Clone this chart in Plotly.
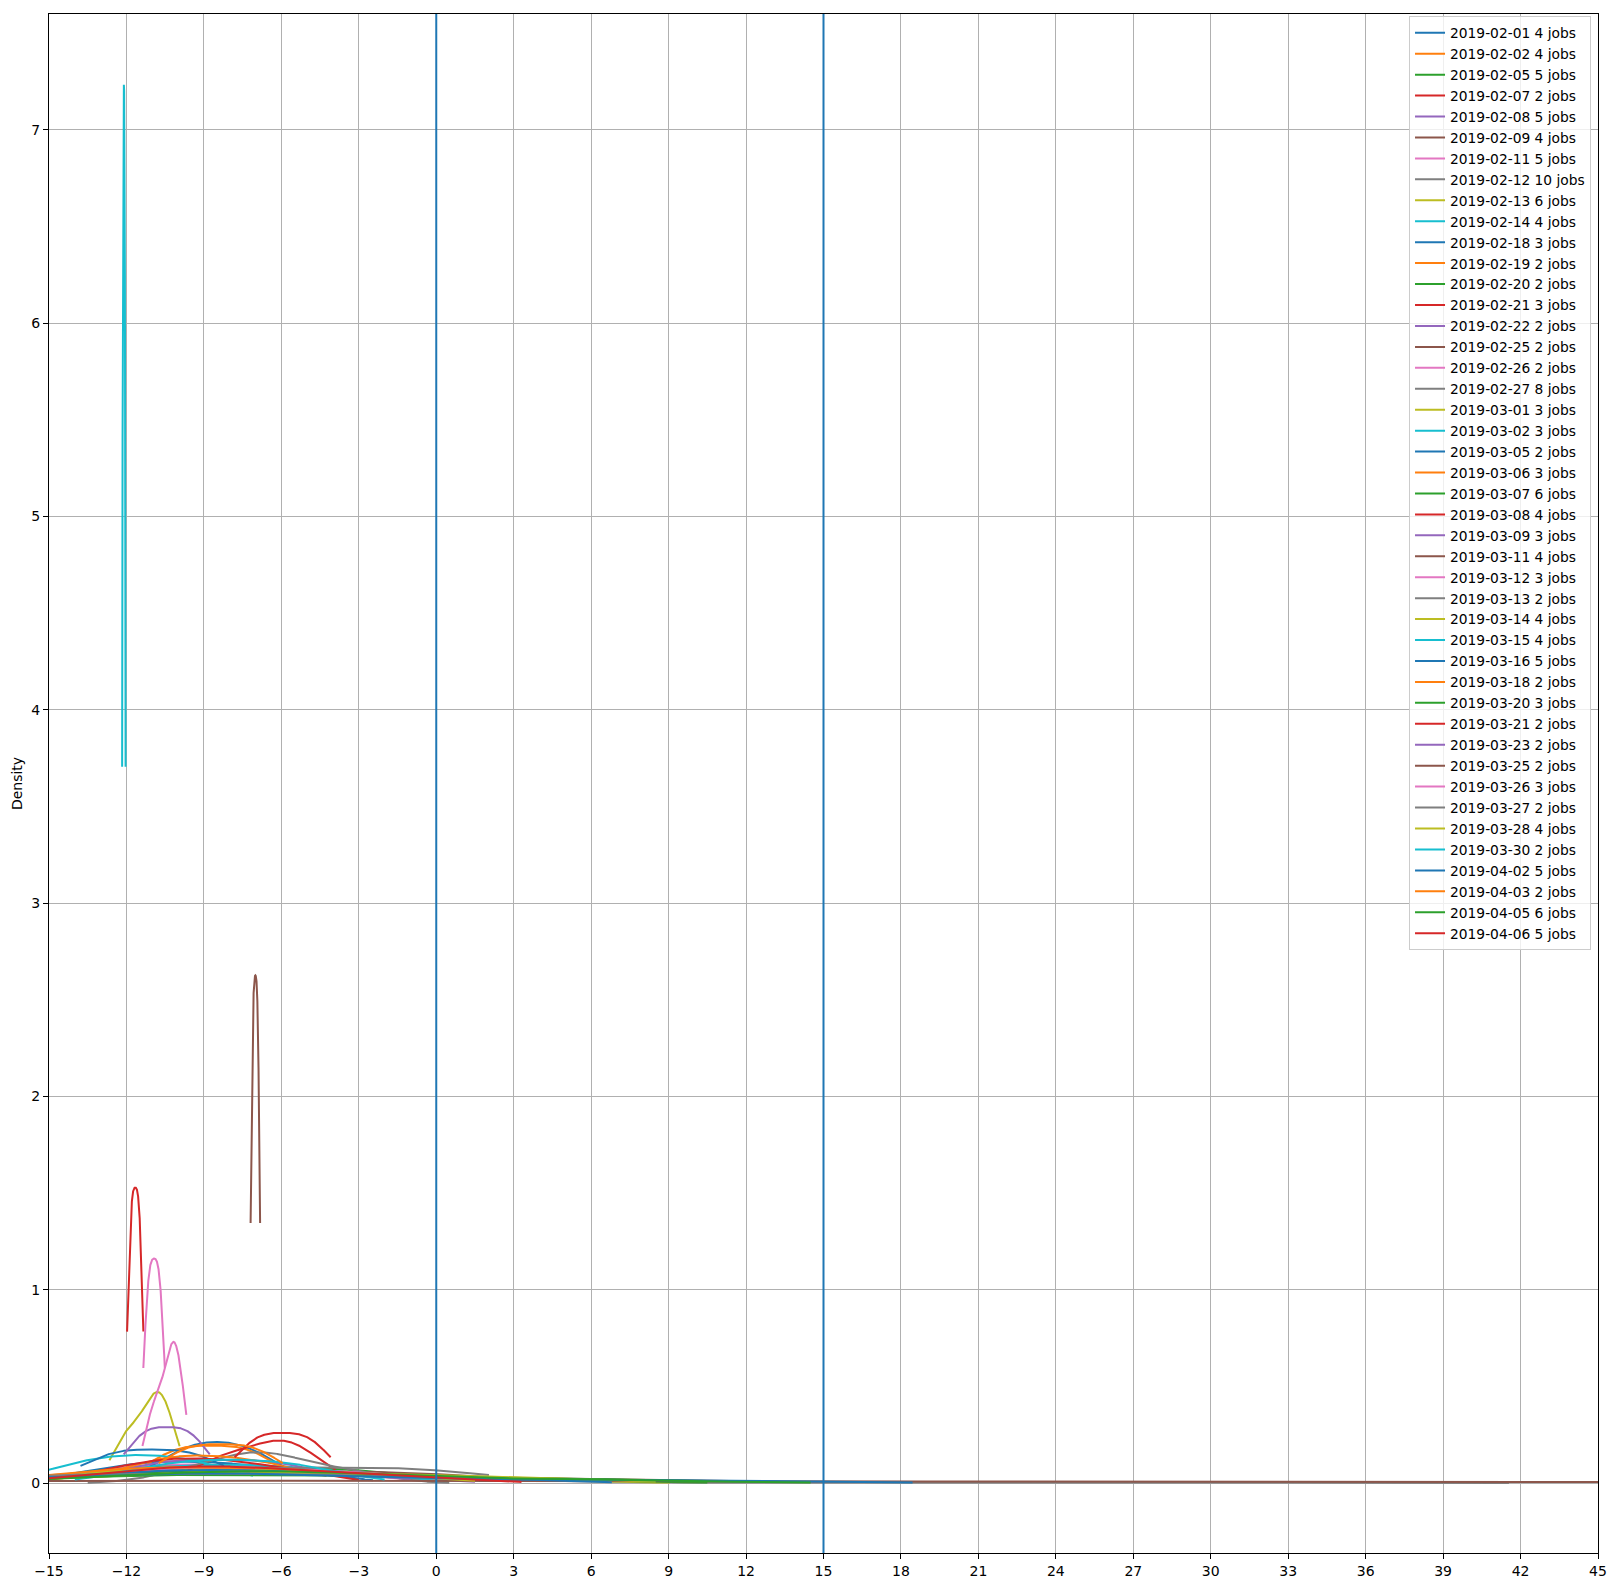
import numpy as np
import plotly.graph_objects as go

# ---- data: per-date job values (estimated from reference) ----
dates = ["2019-02-01", "2019-02-02", "2019-02-05", "2019-02-07", "2019-02-08", "2019-02-09",
         "2019-02-11", "2019-02-12", "2019-02-13", "2019-02-14", "2019-02-18", "2019-02-19",
         "2019-02-20", "2019-02-21", "2019-02-22", "2019-02-25", "2019-02-26", "2019-02-27",
         "2019-03-01", "2019-03-02", "2019-03-05", "2019-03-06", "2019-03-07", "2019-03-08",
         "2019-03-09", "2019-03-11", "2019-03-12", "2019-03-13", "2019-03-14", "2019-03-15",
         "2019-03-16", "2019-03-18", "2019-03-20", "2019-03-21", "2019-03-23", "2019-03-25",
         "2019-03-26", "2019-03-27", "2019-03-28", "2019-03-30", "2019-04-02", "2019-04-03",
         "2019-04-05", "2019-04-06"]

jobs_0201 = [-12.5, -10.5, -8.5, -5.8]
jobs_0202 = [-11, -9, -7, -2]
jobs_0205 = [-13, -11, -9, -7, -4]
jobs_0207 = [-11.818, -11.502]
jobs_0208 = [-12, -10, -8, -6, -3]
jobs_0209 = [-12, -9, -5, 5]
jobs_0211 = [-12.5, -11, -9, -7, -4]
jobs_0212 = [-12, -10, -9, -8, -7.5, -7, -6, -5, -3, 23.7]
jobs_0213 = [-13, -11, -10, -8, -5, 1.7]
jobs_0214 = [-12, -9, -7, -4]
jobs_0218 = [-10, -8.5, -7]
jobs_0219 = [-9.945, -7.455]
jobs_0220 = [-10, -4]
jobs_0221 = [-8.33, -6.3, -5.38]
jobs_0222 = [-10.5, -6.5]
jobs_0225 = [-10, -2]
jobs_0226 = [-11.138, -10.722]
jobs_0227 = [-10, -8.5, -7.5, -7, -6.5, -6, -4.5, -3]
jobs_0301 = [-11.98, -10.82, -10.62]
jobs_0302 = [-13.7, -11.5, -9.3]
jobs_0305 = [-12.39, -9.61]
jobs_0306 = [-11, -9, -6.5]
jobs_0307 = [-12, -10, -8.5, -6, -3, 3]
jobs_0308 = [-12, -10, -8.5, -6]
jobs_0309 = [-13, -9, -5]
jobs_0311 = [-11, -9, -6, 60]
jobs_0312 = [-11, -8, -3]
jobs_0313 = [-7.02, -0.98]
jobs_0314 = [-12, -10, -7, -3]
jobs_0315 = [-11, -9, -7, -5]
jobs_0316 = [-13, -10, -8, -5, 0.2]
jobs_0318 = [-12, -6]
jobs_0320 = [-12, -7, 3]
jobs_0321 = [-6.88, -5.02]
jobs_0323 = [-11.273, -9.607]
jobs_0325 = [-7.099, -6.915]
jobs_0326 = [-10.955, -10.15, -10.105]
jobs_0327 = [-13, -3]
jobs_0328 = [-11, -8, -4, 2]
jobs_0330 = [-12.1334, -12.0666]
jobs_0402 = [-12, -10, -8, -5, 8.3]
jobs_0403 = [-9.55, -7.15]
jobs_0405 = [-11, -9, -7, -5, -2, 6]
jobs_0406 = [-12, -10, -8, -6, -1.8]

series_values = [jobs_0201, jobs_0202, jobs_0205, jobs_0207, jobs_0208, jobs_0209, jobs_0211,
                 jobs_0212, jobs_0213, jobs_0214, jobs_0218, jobs_0219, jobs_0220, jobs_0221,
                 jobs_0222, jobs_0225, jobs_0226, jobs_0227, jobs_0301, jobs_0302, jobs_0305,
                 jobs_0306, jobs_0307, jobs_0308, jobs_0309, jobs_0311, jobs_0312, jobs_0313,
                 jobs_0314, jobs_0315, jobs_0316, jobs_0318, jobs_0320, jobs_0321, jobs_0323,
                 jobs_0325, jobs_0326, jobs_0327, jobs_0328, jobs_0330, jobs_0402, jobs_0403,
                 jobs_0405, jobs_0406]

vline_positions = [0, 15]
x_ticks = list(range(-15, 46, 3))
y_ticks = list(range(0, 8))

# bandwidth factor calibrated for two-sample sets (Scott's rule otherwise)
BW_FACTOR_TWO_JOBS = 0.735

colors = ["#1f77b4", "#ff7f0e", "#2ca02c", "#d62728", "#9467bd",
          "#8c564b", "#e377c2", "#7f7f7f", "#bcbd22", "#17becf"]


def kde(values):
    v = np.asarray(values, dtype=float)
    n = len(v)
    rng = v.max() - v.min()
    xs = np.linspace(v.min() - 0.5 * rng, v.max() + 0.5 * rng, 1000)
    factor = BW_FACTOR_TWO_JOBS if n == 2 else n ** (-0.2)
    h = factor * v.std(ddof=1)
    d = (xs[:, None] - v[None, :]) / h
    ys = np.exp(-0.5 * d ** 2).sum(axis=1) / (n * h * np.sqrt(2 * np.pi))
    return xs, ys


fig = go.Figure()
for i, (date, vals) in enumerate(zip(dates, series_values)):
    xs, ys = kde(vals)
    fig.add_trace(go.Scatter(x=xs, y=ys, mode="lines",
                             name=f"{date} {len(vals)} jobs",
                             line=dict(color=colors[i % 10], width=2)))

for xv in vline_positions:
    fig.add_shape(type="line", xref="x", yref="paper", x0=xv, x1=xv, y0=0, y1=1,
                  line=dict(color="#1f77b4", width=2), layer="above")

font = dict(family="DejaVu Sans", size=14, color="black")
legend_font = dict(family="DejaVu Sans", size=13.8, color="black")
axis_common = dict(showgrid=True, gridcolor="#b0b0b0", gridwidth=1, zeroline=False,
                   showline=True, linecolor="black", linewidth=1, mirror=True,
                   ticks="outside", ticklen=5, tickcolor="black", tickfont=font,
                   automargin=False)

fig.update_layout(
    width=1616, height=1587,
    margin=dict(l=49, r=18, t=14, b=34, pad=0),
    paper_bgcolor="white", plot_bgcolor="white",
    font=font,
    xaxis=dict(range=[-15, 45], tickvals=x_ticks, **axis_common),
    yaxis=dict(range=[-0.362, 7.60], tickvals=y_ticks,
               title=dict(text="Density", font=font, standoff=5), **axis_common),
    legend=dict(x=0.8780, y=0.9985, xanchor="left", yanchor="top",
                bgcolor="rgba(255,255,255,0.8)", bordercolor="#cccccc", borderwidth=1,
                font=legend_font, tracegroupgap=0),
    showlegend=True,
)

fig.write_html("out.html")
